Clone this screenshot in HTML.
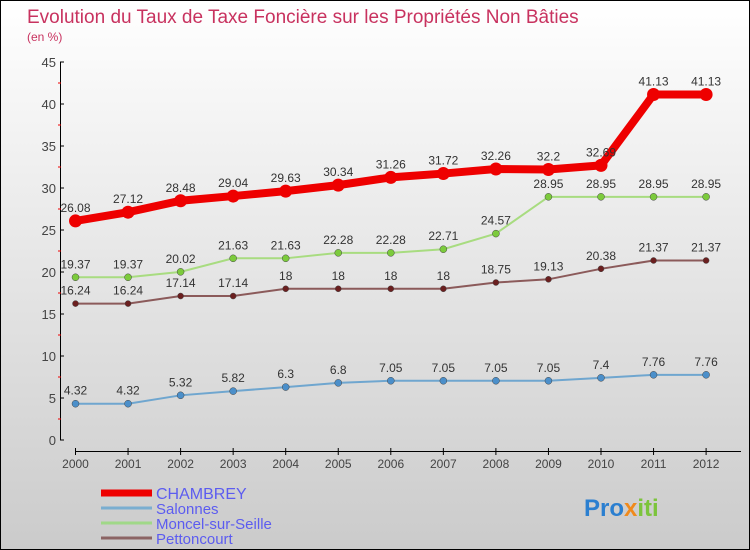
<!DOCTYPE html>
<html><head><meta charset="utf-8"><style>
body{margin:0}
#c{width:748px;height:548px;border:1px solid #000;background:linear-gradient(#fff,#cbcbcb);position:relative;font-family:"Liberation Sans",sans-serif}
</style></head><body>
<div id="c">
<svg width="748" height="548" id="s" style="position:absolute;left:0;top:0"></svg>
</div>
<script>
const years=[2000,2001,2002,2003,2004,2005,2006,2007,2008,2009,2010,2011,2012];
const yTicks=[0,5,10,15,20,25,30,35,40,45];
const chambrey=[26.08,27.12,28.48,29.04,29.63,30.34,31.26,31.72,32.26,32.2,32.69,41.13,41.13];
const salonnes=[4.32,4.32,5.32,5.82,6.3,6.8,7.05,7.05,7.05,7.05,7.4,7.76,7.76];
const moncel=[19.37,19.37,20.02,21.63,21.63,22.28,22.28,22.71,24.57,28.95,28.95,28.95,28.95];
const petton=[16.24,16.24,17.14,17.14,18,18,18,18,18.75,19.13,20.38,21.37,21.37];
const labC=["26.08","27.12","28.48","29.04","29.63","30.34","31.26","31.72","32.26","32.2","32.69","41.13","41.13"];
const labS=["4.32","4.32","5.32","5.82","6.3","6.8","7.05","7.05","7.05","7.05","7.4","7.76","7.76"];
const labM=["19.37","19.37","20.02","21.63","21.63","22.28","22.28","22.71","24.57","28.95","28.95","28.95","28.95"];
const labP=["16.24","16.24","17.14","17.14","18","18","18","18","18.75","19.13","20.38","21.37","21.37"];
const X=i=>74.5+i*52.55, Y=v=>439-v*(378/45);
const s=document.getElementById('s'),NS="http://www.w3.org/2000/svg";
function el(t,a,p){const e=document.createElementNS(NS,t);for(const k in a)e.setAttribute(k,a[k]);(p||s).appendChild(e);return e;}
function tx(x,y,str,a){const e=el('text',Object.assign({x:x,y:y},a));e.textContent=str;return e;}
let t=tx(26,22,"Evolution du Taux de Taxe Foncière sur les Propriétés Non Bâties",{fill:"#c8325f","font-size":19});

t=tx(26,40,"(en %)",{fill:"#c8325f","font-size":12});

let a=el('line',{x1:59.5,y1:Y(45),x2:59.5,y2:Y(0),stroke:"#000"});

yTicks.forEach(v=>{el('line',{x1:59,y1:Y(v),x2:63,y2:Y(v),stroke:"#000"});
 if(v<45)el('line',{x1:57,y1:Y(v+2.5),x2:60,y2:Y(v+2.5),stroke:"#e00"});
 const l=tx(55,Y(v)+5,String(v),{"text-anchor":"end","font-size":13,fill:"#444"});
 });
a=el('line',{x1:X(0),y1:450.5,x2:740,y2:450.5,stroke:"#000"});

years.forEach((y,i)=>{el('line',{x1:X(i),y1:447,x2:X(i),y2:454,stroke:"#000"});
 const l=tx(X(i),467,String(y),{"text-anchor":"middle","font-size":12,fill:"#444"});
 });
function series(vals,labs,col,dot,w,r,name){
 const p=el('polyline',{points:vals.map((v,i)=>X(i)+","+Y(v)).join(" "),fill:"none",stroke:col,"stroke-width":w});
 
 vals.forEach((v,i)=>{const c=el('circle',{cx:X(i),cy:Y(v),r:r,fill:dot,stroke:col==="#e00"?"none":"#444","stroke-width":0.5});
  
  const l=tx(X(i),Y(v)-9,labs[i],{"text-anchor":"middle","font-size":12,fill:"#333"});
  });
}
series(salonnes,labS,"#6fa6cf","#4b8fca",2,3.5,"salonnes");
series(petton,labP,"#8b5a5a","#6b1f1f",2,3,"pettoncourt");
series(moncel,labM,"#a8dc80","#7ccb3c",2,3.5,"moncel");
series(chambrey,labC,"#e00","#e00",8,6.5,"chambrey");
const leg=[["CHAMBREY","#e00",7],["Salonnes","#7aaed0",3],["Moncel-sur-Seille","#a0d888",3],["Pettoncourt","#8b6464",3]];
leg.forEach((L,i)=>{const y=492+i*15;
 const g=el('g',{});
 el('line',{x1:100,y1:y,x2:151,y2:y,stroke:L[1],"stroke-width":L[2]},g);
 tx(155,y+6,L[0],{fill:"#5c5cf0","font-size":i==0?16:15},g);});
const lg=tx(583,515,"",{"font-size":24,"font-weight":"bold"});

[["Pro","#2b7fd0"],["x","#f08a1c"],["iti","#7cc43c"]].forEach(p=>{const ts=el('tspan',{fill:p[1]},lg);ts.textContent=p[0];});
</script>
</body></html>
